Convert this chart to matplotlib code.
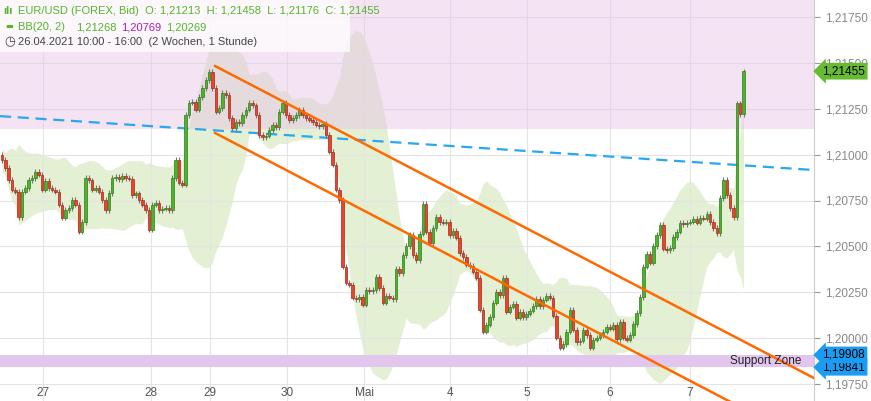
import matplotlib.pyplot as plt
import numpy as np
import pandas as pd

plt.rcParams["font.family"] = ["Liberation Sans", "DejaVu Sans"]

# hourly closes EUR/USD, 26.04. - 07.05.2021
closes = [
    1.20971, 1.20927, 1.20862, 1.20808, 1.20797, 1.20660, 1.20797, 1.20818, 1.20862, 1.20873,
    1.20905, 1.20890, 1.20808, 1.20857, 1.20818, 1.20808, 1.20797, 1.20726, 1.20655, 1.20698,
    1.20709, 1.20753, 1.20726, 1.20579, 1.20633, 1.20873, 1.20860, 1.20808, 1.20818, 1.20797,
    1.20753, 1.20698, 1.20791, 1.20873, 1.20880, 1.20865, 1.20884, 1.20873, 1.20868, 1.20780,
    1.20790, 1.20753, 1.20726, 1.20698, 1.20590, 1.20726, 1.20737, 1.20698, 1.20705, 1.20709,
    1.20698, 1.20873, 1.20971, 1.20846, 1.20835, 1.21216,
    1.21282, 1.21287, 1.21244, 1.21314, 1.21363, 1.21407, 1.21451, 1.21363, 1.21233, 1.21254,
    1.21336, 1.21325, 1.21200, 1.21145, 1.21178, 1.21170, 1.21216, 1.21244, 1.21282, 1.21270,
    1.21216, 1.21107, 1.21096, 1.21102, 1.21134, 1.21162, 1.21150, 1.21233, 1.21282, 1.21216,
    1.21189, 1.21200, 1.21216, 1.21244, 1.21216, 1.21200, 1.21190, 1.21178, 1.21162, 1.21155,
    1.21167, 1.21107, 1.21015, 1.20944, 1.20808, 1.20753,
    1.20388, 1.20301, 1.20290, 1.20219, 1.20213, 1.20224, 1.20181, 1.20262, 1.20257, 1.20262,
    1.20333, 1.20273, 1.20192, 1.20230, 1.20219, 1.20213, 1.20377, 1.20355, 1.20453, 1.20502,
    1.20562, 1.20453, 1.20426, 1.20568, 1.20731, 1.20579, 1.20518, 1.20600, 1.20660, 1.20633,
    1.20628, 1.20633, 1.20562, 1.20584, 1.20546, 1.20464, 1.20442, 1.20399, 1.20393, 1.20361,
    1.20328, 1.20154, 1.20034, 1.20072, 1.20115, 1.20192, 1.20252, 1.20235, 1.20328, 1.20143,
    1.20170, 1.20186, 1.20110, 1.20143, 1.20115, 1.20132, 1.20148, 1.20175, 1.20213, 1.20175,
    1.20208, 1.20230, 1.20219, 1.20121, 1.20001, 1.19947, 1.19968, 1.20034, 1.20154, 1.20045,
    1.19979, 1.19985, 1.20045, 1.20017, 1.19947, 1.19990, 1.20001, 1.20017, 1.20034, 1.20061,
    1.20050, 1.20072, 1.19995, 1.20088, 1.20001, 1.19990, 1.20017, 1.20077, 1.20137, 1.20224,
    1.20388, 1.20459, 1.20410, 1.20502, 1.20562, 1.20617, 1.20486, 1.20480, 1.20491, 1.20551,
    1.20579, 1.20628, 1.20620, 1.20628, 1.20635, 1.20649, 1.20628, 1.20655, 1.20650, 1.20677,
    1.20633, 1.20600, 1.20573, 1.20764, 1.20862, 1.20780, 1.20709, 1.20660, 1.21280, 1.21220,
    1.21455,
]
first_open = 1.2100

day_labels = ["27", "28", "29", "30", "Mai", "4", "5", "6", "7"]
day_pos = [12.3, 44.6, 62.3, 85.3, 108.4, 134.1, 157.2, 182.0, 206.0]

price_ticks = [1.1975, 1.2000, 1.2025, 1.2050, 1.2075, 1.2100, 1.2125, 1.2150, 1.2175]

resistance_low = 1.2114
support_low, support_high = 1.19841, 1.19908
last_price = 1.21455

# drawn trend lines (candle index, price)
channel_top = ([63.8, 243.1], [1.21483, 1.19782])
channel_bottom = ([63.8, 224.0], [1.21118, 1.19596])
blue_line = ([-0.6, 243.1], [1.21210, 1.20916])

c = pd.Series(closes)
o = c.shift(1).fillna(first_open)
x = np.arange(len(c))
bb_mid = c.rolling(20, min_periods=1).mean()
bb_std = c.rolling(20, min_periods=2).std().bfill()
bb_up = bb_mid + 2 * bb_std
bb_dn = bb_mid - 2 * bb_std

fig = plt.figure(figsize=(8.71, 4.01), dpi=100)
ax = fig.add_axes([0, 0, 814 / 871, 1])
ax.set_xlim(-0.6, 243.1)
ax.set_ylim(1.19657, 1.21843)

ax.fill_between(x, bb_dn, bb_up, color="#e3f0d3", zorder=1, lw=0)
ax.axhspan(resistance_low, 1.22, color="#e8c8e8", alpha=0.5, zorder=1.5, lw=0)
ax.axhspan(support_low, support_high, color="#e2c6ee", zorder=1.5, lw=0)

for p in price_ticks:
    ax.axhline(p, color="#e4e4e4", lw=0.8, zorder=1.2)
for d in day_pos:
    ax.axvline(d, color="#e4e4e4", lw=0.8, zorder=1.2)

ax.plot(*blue_line, color="#29a8f0", lw=1.6, ls=(0, (5, 3)), zorder=3)

up = c >= o
hi = np.maximum(c, o) + 0.00014
lo = np.minimum(c, o) - 0.00014
ax.vlines(x, lo, hi, color="#777777", lw=0.8, zorder=4)
body = (c - o).abs().clip(lower=0.00002)
ax.bar(x[up], body[up], bottom=np.minimum(c, o)[up], width=0.75,
       color="#4db32a", edgecolor="#2f7d1c", lw=0.5, zorder=5)
ax.bar(x[~up], body[~up], bottom=np.minimum(c, o)[~up], width=0.75,
       color="#e8452c", edgecolor="#a52a18", lw=0.5, zorder=5)

ax.plot(*channel_top, color="#ff6a00", lw=1.8, zorder=6)
ax.plot(*channel_bottom, color="#ff6a00", lw=1.8, zorder=6)

ax.text(228.5, (support_low + support_high) / 2, "Support Zone", fontsize=8.5,
        ha="center", va="center", color="#222222", zorder=7)

ax.yaxis.tick_right()
ax.set_yticks(price_ticks)
ax.set_yticklabels([f"{p:.5f}".replace(".", ",") for p in price_ticks])
ax.tick_params(axis="y", colors="#999999", labelsize=8.5, length=4, pad=4)
ax.tick_params(axis="y", labelcolor="#888888")
ax.set_xticks([])
for s in ["top", "left", "bottom"]:
    ax.spines[s].set_visible(False)
ax.spines["right"].set_color("#cccccc")

for d, lab in zip(day_pos, day_labels):
    ax.text(d, 0.02, lab, transform=ax.get_xaxis_transform(), fontsize=8.5,
            ha="center", va="center", color="#555555", zorder=8)


# price tags on the axis
def tag(price, label, color):
    ax.annotate(label, xy=(1.0, price), xycoords=("axes fraction", "data"),
                xytext=(6, 0), textcoords="offset points", fontsize=8.5,
                ha="left", va="center", color="black", annotation_clip=False,
                bbox=dict(boxstyle="larrow,pad=0.2", fc=color, ec="none"), zorder=9)


tag(last_price, "1,21455", "#66bb33")
tag(support_low, "1,19841", "#1a9cf5")
tag(support_high, "1,19908", "#1a9cf5")

# header
fig.patches.append(plt.Rectangle((0, 1 - 52 / 401), 350 / 871, 52 / 401,
                                 transform=fig.transFigure, fc="white", alpha=0.75, ec="none"))
green = "#56b52d"
fs = 8
fig.text(3 / 871, 1 - 11 / 401, "ılı", fontsize=8, color=green, va="center", weight="bold")
fig.text(18 / 871, 1 - 11 / 401, "EUR/USD (FOREX, Bid)  O: 1,21213  H: 1,21458  L: 1,21176  C: 1,21455",
         fontsize=fs, color=green, va="center")
fig.text(5 / 871, 1 - 27 / 401, "▬", fontsize=6, color=green, va="center", family="DejaVu Sans")
fig.text(18 / 871, 1 - 27 / 401, "BB(20, 2)", fontsize=fs, color=green, va="center")
fig.text(76 / 871, 1 - 27 / 401, "1,21268", fontsize=fs, color=green, va="center")
fig.text(121 / 871, 1 - 27 / 401, "1,20769", fontsize=fs, color="#a81fb0", va="center")
fig.text(166 / 871, 1 - 27 / 401, "1,20269", fontsize=fs, color=green, va="center")
fig.text(4 / 871, 1 - 42 / 401, "◷", fontsize=9, color="#444444", va="center", family="DejaVu Sans")
fig.text(18 / 871, 1 - 42 / 401, "26.04.2021 10:00 - 16:00  (2 Wochen, 1 Stunde)",
         fontsize=fs, color="#444444", va="center")

plt.savefig("out.png", dpi=100)
plt.close()
